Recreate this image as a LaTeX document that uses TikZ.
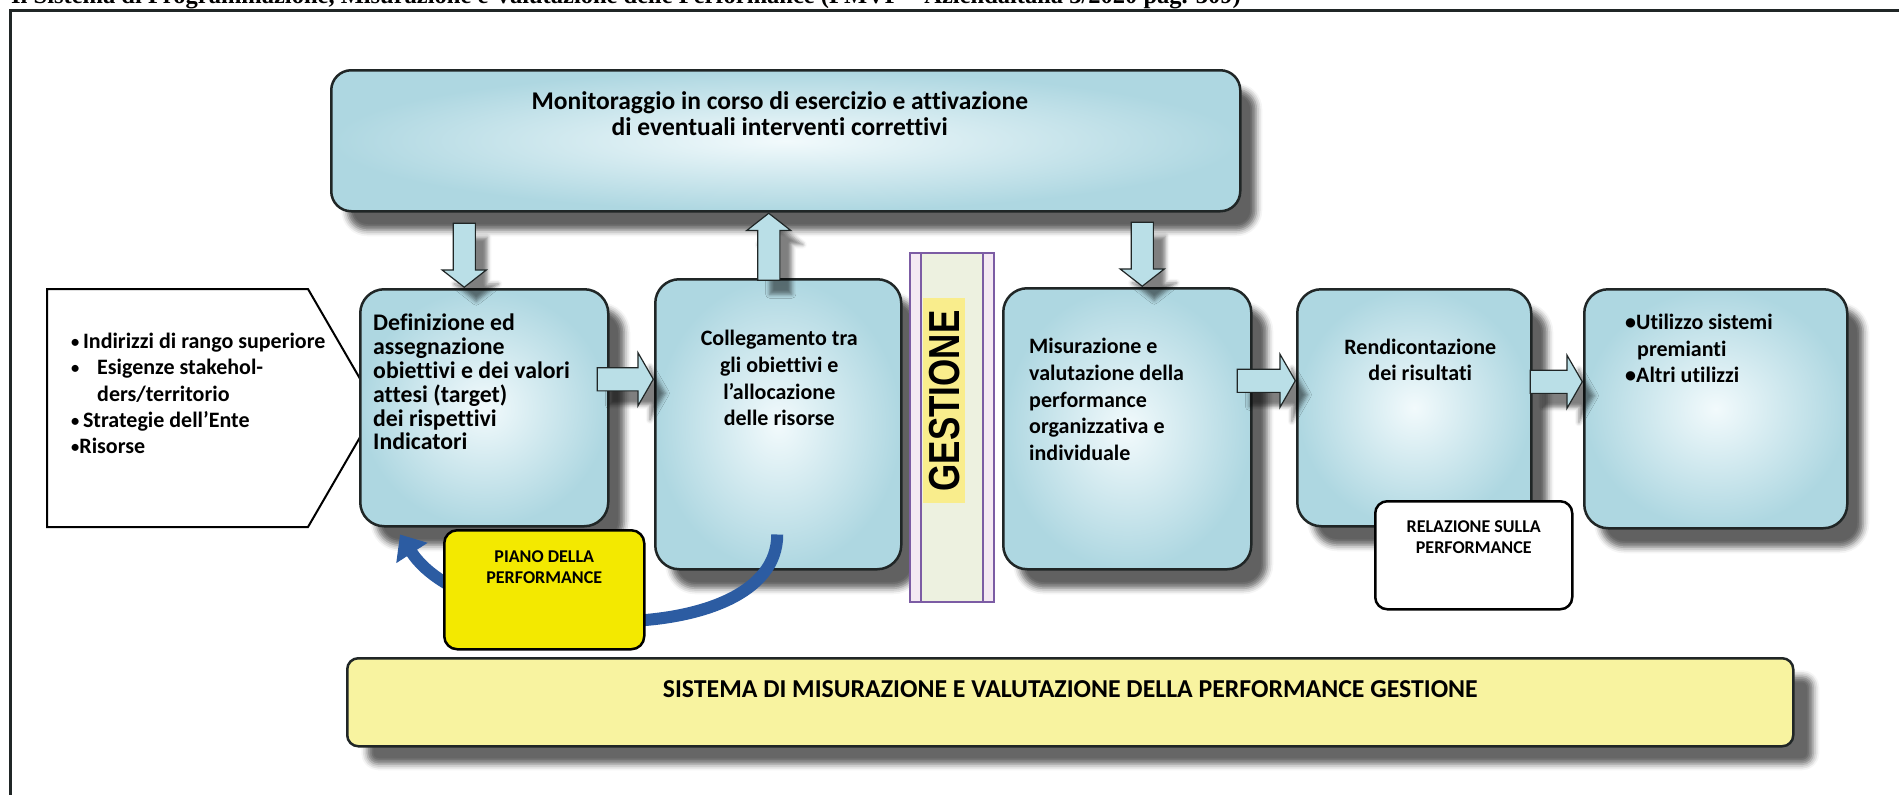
\documentclass[tikz,border=0pt]{standalone}
\usepackage{fontspec}
\setmainfont{Carlito}[Ligatures=NoCommon]
\newfontfamily\titlefont{Liberation Serif}
\newfontfamily\gestfont{Liberation Sans}
\usetikzlibrary{arrows.meta,shapes.arrows,shadows.blur}

\definecolor{edgegray}{RGB}{32,38,38}
\definecolor{boxblue}{RGB}{174,215,225}
\definecolor{boxglow}{RGB}{242,250,252}
\definecolor{arrowblue}{RGB}{186,223,231}
\definecolor{curveblue}{RGB}{44,92,162}
\definecolor{pianoyellow}{RGB}{243,233,0}
\definecolor{sysyellow}{RGB}{248,243,160}
\definecolor{gestpurple}{RGB}{124,92,164}
\definecolor{gestpink}{RGB}{244,233,243}
\definecolor{gestgreen}{RGB}{237,241,224}
\definecolor{gestmark}{RGB}{249,237,140}

\newcommand{\dotmark}{\raisebox{1.5pt}{\scalebox{0.75}{•}}}

\tikzset{
  phase/.style={draw=edgegray, line width=2.5pt, rounded corners=24pt, inner color=boxglow, outer color=boxblue, anchor=north west,
    blur shadow={shadow xshift=16pt, shadow yshift=-19pt, shadow blur radius=6pt, shadow opacity=62}},
  phasetext/.style={font=\bfseries\fontsize{22}{26.7}\selectfont, inner sep=0pt},
  flow/.style={single arrow, draw=edgegray, line width=1.2pt, fill=arrowblue, minimum width=0pt,
    blur shadow={shadow xshift=12pt, shadow yshift=-14pt, shadow blur radius=4pt, shadow opacity=50}},
  hflow/.style={flow, inner xsep=0pt, inner ysep=11pt, single arrow head extend=15pt, single arrow tip angle=120},
  vflow/.style={flow, inner xsep=10.5pt, inner ysep=0pt, single arrow head extend=11pt, single arrow tip angle=104},
  note/.style={draw=black, line width=2.5pt, rounded corners=13pt, anchor=north west},
  notetext/.style={font=\bfseries\fontsize{18}{21}\selectfont, inner sep=0pt, align=center, anchor=north}
}

\begin{document}
\begin{tikzpicture}[x=1pt, y=-1pt]
  \useasboundingbox (0,0) rectangle (1899,795);
  \node[anchor=base west, inner sep=0pt, font=\titlefont\bfseries\fontsize{24.5}{24}\selectfont] (title) at (11,4) {Il Sistema di Programmazione, Misurazione e Valutazione delle Performance (PMVP – Aziendaitalia 3/2020 pag. 309)};
  \draw[line width=3pt, edgegray] (10,800) -- (10,10) -- (1905,10);

  \node[phase, rounded corners=20pt, minimum width=909pt, minimum height=141pt] (mon) at (330,69) {};
  \node[phasetext, font=\bfseries\fontsize{25.5}{26.5}\selectfont, align=center, anchor=north] (mont) at ([xshift=-6pt,yshift=-22pt]mon.north) {Monitoraggio in corso di esercizio e attivazione\\di eventuali interventi correttivi};

  \node[draw=edgegray, line width=2.5pt, rounded corners=11pt, fill=sysyellow, anchor=north west, minimum width=1446pt, minimum height=88pt,
    blur shadow={shadow xshift=20pt, shadow yshift=-18pt, shadow blur radius=6pt, shadow opacity=60}] (sys) at (346,657) {};
  \node[anchor=base, inner sep=0pt, font=\bfseries\fontsize{25.8}{25.8}\selectfont] (syst) at ([yshift=-40pt]sys.north) {SISTEMA DI MISURAZIONE E VALUTAZIONE DELLA PERFORMANCE GESTIONE};

  \draw[line width=2pt, fill=white] (47,289) -- (308,289) -- (377,408) -- (308,527) -- (47,527) -- cycle;
  \node[phasetext, font=\bfseries\fontsize{22}{26.3}\selectfont, align=left, anchor=north west] (inp) at (71,333) {\dotmark\,Indirizzi di rango superiore\\\makebox[26pt][l]{\dotmark}Esigenze stakehol-\\\hspace*{26pt}ders/territorio\\\dotmark\,Strategie dell’Ente\\\dotmark Risorse};

  \node[phase, minimum width=248pt, minimum height=237pt] (def) at (359,288) {};
  \node[phasetext, font=\bfseries\fontsize{23.8}{23.8}\selectfont, align=left, anchor=north west] (deft) at ([xshift=14pt,yshift=-26pt]def.north west) {Definizione ed\\assegnazione\\obiettivi e dei valori\\attesi (target)\\dei rispettivi\\Indicatori};

  \node[phase, minimum width=246pt, minimum height=290pt] (col) at (654,278) {};
  \node[phasetext, align=center, anchor=north] (colt) at ([xshift=1pt,yshift=-52pt]col.north) {Collegamento tra\\gli obiettivi e\\l’allocazione\\delle risorse};

  \draw[gestpurple, line width=1.5pt, fill=gestpink] (910,253) rectangle (994,602);
  \draw[gestpurple, line width=1.5pt, fill=gestgreen] (921,253) rectangle (983,602);
  \fill[gestmark] (923,298) rectangle (965,503);
  \node[rotate=90, inner sep=0pt, font=\gestfont\bfseries\fontsize{35}{35}\selectfont] (ges) at (945,401) {\scalebox{1}[1.24]{GESTIONE}};

  \node[phase, minimum width=248pt, minimum height=281pt] (mis) at (1002,287) {};
  \node[phasetext, align=left, anchor=north west] (mist) at ([xshift=27pt,yshift=-51pt]mis.north west) {Misurazione e\\valutazione della\\performance\\organizzativa e\\individuale};

  \node[phase, minimum width=234pt, minimum height=237pt] (ren) at (1296,288) {};
  \node[phasetext, font=\bfseries\fontsize{22}{26}\selectfont, align=center, anchor=north] (rent) at ([xshift=6pt,yshift=-51pt]ren.north) {Rendicontazione\\dei risultati};

  \node[phase, minimum width=263pt, minimum height=239pt] (uti) at (1583,288) {};
  \node[phasetext, font=\bfseries\fontsize{22}{26.5}\selectfont, align=left, anchor=north west] (utit) at ([xshift=42pt,yshift=-26pt]uti.north west) {•Utilizzo sistemi\\\hspace*{12pt}premianti\\•Altri utilizzi};

  \node[vflow, shape border rotate=270, minimum height=64pt, anchor=tip] (down1) at ([xshift=-20pt]def.north) {};
  \node[vflow, shape border rotate=90, minimum height=67pt, anchor=tip] (up1) at ([xshift=-17pt]mon.south) {};
  \node[vflow, shape border rotate=270, minimum height=64pt, anchor=tip] (down2) at ([xshift=15pt]mis.north) {};
  \node[hflow, minimum height=56pt, anchor=tip] (go12) at ([yshift=45pt]col.west) {};
  \node[hflow, minimum height=58pt, anchor=tip] (go34) at ([yshift=27pt]ren.west) {};
  \node[hflow, minimum height=52pt, anchor=tip] (go45) at ([yshift=27pt]uti.west) {};

  \draw[curveblue, line width=12pt, -{Triangle[width=36pt, length=22pt]}] ([xshift=-1pt,yshift=36pt]col.south) .. controls +(0,118) and +(70,108) .. ([xshift=41pt,yshift=-7pt]def.south west);

  \node[note, fill=pianoyellow, minimum width=200pt, minimum height=119pt] (pia) at (443,529) {};
  \node[notetext] (piat) at ([yshift=-21pt]pia.north) {PIANO DELLA\\PERFORMANCE};

  \node[note, fill=white, rounded corners=12pt, minimum width=197pt, minimum height=108pt] (rel) at (1374,500) {};
  \node[notetext] (relt) at ([yshift=-20pt]rel.north) {RELAZIONE SULLA\\PERFORMANCE};
\end{tikzpicture}
\end{document}
